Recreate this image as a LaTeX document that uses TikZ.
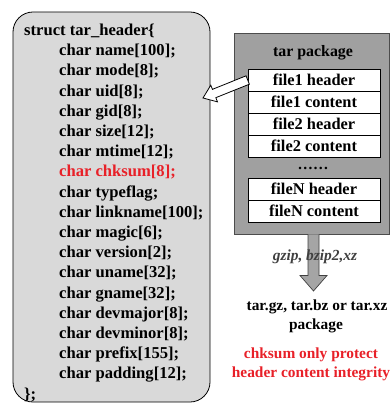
\documentclass[tikz,border=0pt]{standalone}
\usepackage{fontspec}
\setmainfont{Liberation Serif}
\usetikzlibrary{calc}
\definecolor{leftgray}{RGB}{217,217,217}
\definecolor{darkgray2}{RGB}{160,160,160}
\definecolor{arrowgray}{RGB}{165,165,165}
\definecolor{txtred}{RGB}{232,32,40}
\definecolor{labgray}{RGB}{64,64,64}
\tikzset{
  codetxt/.style={font=\fontsize{16.6}{19}\selectfont\bfseries, inner sep=0pt, anchor=base west},
  righttxt/.style={font=\fontsize{15.4}{18}\selectfont\bfseries, inner sep=0pt, anchor=base},
  filebox/.style={draw=black, line width=0.6pt, fill=white, minimum width=132pt, minimum height=22pt, inner sep=0pt,
     font=\fontsize{16.4}{18}\selectfont\bfseries},
}
\begin{document}
\begin{tikzpicture}[x=1pt,y=-1pt]
\useasboundingbox (0,0) rectangle (390,403);
% left struct box
\node[draw=black, line width=0.8pt, fill=leftgray, rounded corners=20pt, minimum width=197pt, minimum height=390pt, inner sep=0pt] (structbox) at (111.5,207) {};
% code lines
\node[codetxt] (l0) at (24,35.5) {struct tar\_header\{};
\foreach \t [count=\i] in {char name[100];, char mode[8];, char uid[8];, char gid[8];, char size[12];, char mtime[12];, {\textcolor{txtred}{char chksum[8];}}, char typeflag;, char linkname[100];, char magic[6];, char version[2];, char uname[32];, char gname[32];, char devmajor[8];, char devminor[8];, char prefix[155];, char padding[12];}
  \node[codetxt] (l\i) at (59,35.5+20.2*\i) {\t};
\node[codetxt] (lend) at (24,399) {\};};
% tar package box
\node[draw=black!70, line width=0.8pt, fill=darkgray2, minimum width=155pt, minimum height=201pt, inner sep=0pt] (tarbox) at (311.5,133.5) {};
\node[righttxt, font=\fontsize{15.9}{18}\selectfont\bfseries] (tartitle) at (313,56.5) {tar package};
\node[filebox] (f1h) at (314,80) {file1 header};
\node[filebox] (f1c) at (314,102) {file1 content};
\node[filebox] (f2h) at (314,124) {file2 header};
\node[filebox] (f2c) at (314,146) {file2 content};
\node[righttxt] (dots) at (313,169) {……};
\node[filebox] (fnh) at (314,189) {fileN header};
\node[filebox] (fnc) at (314,211) {fileN content};
% hollow arrow from file1 header to struct box
\coordinate (hT) at (f1h.west);
\coordinate (hP) at (203,98);
\coordinate (hB) at ($(hP)!12pt!(hT)$);
\draw[black, line width=0.8pt, fill=white, line join=miter]
  ($(hT)!4.5pt!90:(hP)$) -- ($(hB)!4.5pt!-90:(hT)$) -- ($(hB)!9pt!-90:(hT)$) -- (hP)
  -- ($(hB)!9pt!90:(hT)$) -- ($(hB)!4.5pt!90:(hT)$) -- ($(hT)!4.5pt!-90:(hP)$) -- cycle;
% down arrow
\coordinate (dT) at (tarbox.south -| 313.5,0);
\coordinate (dP) at (313.5,291);
\draw[black!75, line width=0.7pt, fill=arrowgray]
  ($(dT)+(-5.5,0)$) -- ($(dP)+(-5.5,-15.5)$) -- ($(dP)+(-13.5,-15.5)$) -- (dP)
  -- ($(dP)+(13.5,-15.5)$) -- ($(dP)+(5.5,-15.5)$) -- ($(dT)+(5.5,0)$);
% compression label
\node[font=\fontsize{15.4}{18}\selectfont\bfseries\itshape, text=labgray, inner sep=0pt, anchor=base] (ziplab) at (315,260) {gzip, bzip2,xz};
% output text
\node[righttxt] (out1) at (317,310) {tar.gz, tar.bz or tar.xz};
\node[righttxt] (out2) at (316,329) {package};
\node[righttxt, text=txtred] (note1) at (311,358) {chksum only protect};
\node[righttxt, text=txtred] (note2) at (311,377) {header content integrity};
\end{tikzpicture}
\end{document}
